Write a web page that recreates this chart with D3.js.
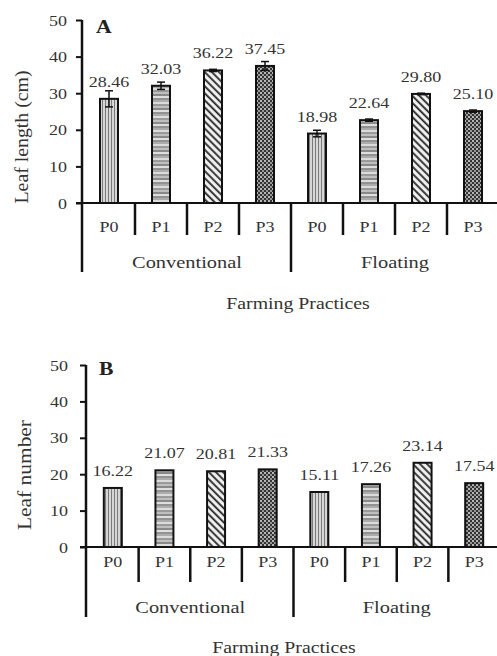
<!DOCTYPE html>
<html>
<head>
<meta charset="utf-8">
<script src="https://cdn.jsdelivr.net/npm/d3@7"></script>
<style>
  html, body { margin: 0; padding: 0; background: #fff; }
  svg { display: block; }
</style>
</head>
<body>
<svg id="chart" width="497" height="656"></svg>
<script>
// Treatments within each farming practice
const treatments = ["P0", "P1", "P2", "P3"];
const practices = ["Conventional", "Floating"];

// Panel A: leaf length (cm), Conventional P0..P3 then Floating P0..P3
const leafLength = [28.46, 32.03, 36.22, 37.45, 18.98, 22.64, 29.80, 25.10];
const leafLengthErr = [2.2, 1.0, 0.3, 1.2, 0.9, 0.3, 0.2, 0.3];

// Panel B: leaf number
const leafNumber = [16.22, 21.07, 20.81, 21.33, 15.11, 17.26, 23.14, 17.54];

const yTicks = [0, 10, 20, 30, 40, 50];

const SERIF = '"Liberation Serif", "Times New Roman", serif';
const svg = d3.select("#chart");
const defs = svg.append("defs");

// Fill patterns, one per treatment
// P0: vertical stripes on light grey
const p0 = defs.append("pattern").attr("id", "pat-P0")
  .attr("patternUnits", "userSpaceOnUse").attr("width", 3).attr("height", 10);
p0.append("rect").attr("width", 3).attr("height", 10).attr("fill", "#d6d6d6");
p0.append("line").attr("x1", 0.5).attr("x2", 0.5).attr("y1", 0).attr("y2", 10)
  .attr("stroke", "#7a7a7a").attr("stroke-width", 1);

// P1: horizontal bands of mixed greys
const p1 = defs.append("pattern").attr("id", "pat-P1")
  .attr("patternUnits", "userSpaceOnUse").attr("width", 10).attr("height", 14);
p1.append("rect").attr("width", 10).attr("height", 14).attr("fill", "#cfcfcf");
[[1, "#555"], [3, "#8a8a8a"], [5, "#e8e8e8"], [7, "#666"], [9, "#b0b0b0"], [11, "#444"], [13, "#eeeeee"]]
  .forEach(([y, c]) => p1.append("line").attr("x1", 0).attr("x2", 10).attr("y1", y).attr("y2", y)
    .attr("stroke", c).attr("stroke-width", 1));

// P2: back-diagonal hatching
const p2 = defs.append("pattern").attr("id", "pat-P2")
  .attr("patternUnits", "userSpaceOnUse").attr("width", 5).attr("height", 5)
  .attr("patternTransform", "rotate(45)");
p2.append("rect").attr("width", 5).attr("height", 5).attr("fill", "#f2f2f2");
p2.append("line").attr("x1", 0).attr("x2", 5).attr("y1", 1.2).attr("y2", 1.2)
  .attr("stroke", "#222").attr("stroke-width", 1.8);

// P3: dark checker with light dots
const p3 = defs.append("pattern").attr("id", "pat-P3")
  .attr("patternUnits", "userSpaceOnUse").attr("width", 4).attr("height", 4);
p3.append("rect").attr("width", 4).attr("height", 4).attr("fill", "#333");
p3.append("circle").attr("cx", 1).attr("cy", 1).attr("r", 1).attr("fill", "#e4e4e4");
p3.append("circle").attr("cx", 3).attr("cy", 3).attr("r", 1).attr("fill", "#b8b8b8");

const fmt = d3.format(".2f");
const SX = 1.2; // horizontal stretch of the serif lettering

function stretchedText(g, x, y, str, size, opts = {}) {
  return g.append("text")
    .attr("transform", `translate(${x},${y}) scale(${SX},1)`)
    .attr("text-anchor", opts.anchor || "middle")
    .style("font-family", SERIF)
    .style("font-size", size + "px")
    .style("font-weight", opts.weight || "normal")
    .style("fill", opts.fill || "#333")
    .text(str);
}

function drawPanel(cfg) {
  const g = svg.append("g");
  const labels = [];
  practices.forEach(p => treatments.forEach(t => labels.push(p + "|" + t)));

  const x = d3.scaleBand().domain(labels).range([cfg.x0, cfg.x1]).padding(0);
  const y = d3.scaleLinear().domain([0, 50]).range([cfg.yBase, cfg.yTop]);
  const barW = 18;

  // Bars
  g.selectAll("rect.bar").data(cfg.values).join("rect")
    .attr("class", "bar")
    .attr("x", (d, i) => x(labels[i]) + x.bandwidth() / 2 - barW / 2)
    .attr("y", d => y(d))
    .attr("width", barW)
    .attr("height", d => y(0) - y(d))
    .attr("fill", (d, i) => `url(#pat-${treatments[i % 4]})`)
    .attr("stroke", "#111")
    .attr("stroke-width", 2);

  // Error bars
  if (cfg.errors) {
    cfg.values.forEach((v, i) => {
      const cx = x(labels[i]) + x.bandwidth() / 2;
      const e = cfg.errors[i];
      g.append("line").attr("x1", cx).attr("x2", cx)
        .attr("y1", y(v - e)).attr("y2", y(v + e))
        .attr("stroke", "#111").attr("stroke-width", 1.5);
      [v - e, v + e].forEach(yy => g.append("line")
        .attr("x1", cx - 4).attr("x2", cx + 4)
        .attr("y1", y(yy)).attr("y2", y(yy))
        .attr("stroke", "#111").attr("stroke-width", 1.5));
    });
  }

  // Value labels
  cfg.values.forEach((v, i) => {
    const cx = x(labels[i]) + x.bandwidth() / 2;
    stretchedText(g, cx, y(v) - 12, fmt(v), 15);
  });

  // Y axis
  const yAxis = d3.axisLeft(y).tickValues(yTicks).tickSize(6).tickPadding(cfg.tickPad);
  const ya = g.append("g").attr("transform", `translate(${cfg.x0 - 1},0)`).call(yAxis);
  ya.select(".domain").remove();
  ya.selectAll(".tick line").attr("stroke", "#111").attr("stroke-width", 2);
  ya.selectAll(".tick text")
    .attr("x", null).attr("dy", null)
    .attr("transform", `translate(${-6 - cfg.tickPad},5) scale(${SX},1)`)
    .style("font-family", SERIF)
    .style("font-size", "15px")
    .style("fill", "#333");
  // vertical axis line, running down through the category rows
  g.append("line").attr("x1", cfg.x0 - 1).attr("x2", cfg.x0 - 1)
    .attr("y1", cfg.yTop).attr("y2", cfg.longEnd)
    .attr("stroke", "#111").attr("stroke-width", 2.5);

  // X baseline
  g.append("line").attr("x1", cfg.x0 - 7).attr("x2", cfg.x1 + 2)
    .attr("y1", y(0)).attr("y2", y(0))
    .attr("stroke", "#111").attr("stroke-width", 2);

  // Category dividers
  labels.forEach((l, i) => {
    if (i === 0) return;
    const xx = x(l);
    const long = i === 4;
    g.append("line").attr("x1", xx).attr("x2", xx)
      .attr("y1", y(0)).attr("y2", long ? cfg.longEnd : cfg.shortEnd)
      .attr("stroke", "#111").attr("stroke-width", 2.5);
  });
  g.append("line").attr("x1", cfg.x1).attr("x2", cfg.x1)
    .attr("y1", y(0)).attr("y2", cfg.longEnd)
    .attr("stroke", "#111").attr("stroke-width", 2.5);

  // Treatment labels
  labels.forEach((l, i) => {
    stretchedText(g, x(l) + x.bandwidth() / 2, cfg.catY, treatments[i % 4], 15);
  });

  // Practice labels
  practices.forEach((p, k) => {
    const a = x(labels[k * 4]);
    const b = x(labels[k * 4 + 3]) + x.bandwidth();
    stretchedText(g, (a + b) / 2, cfg.grpY, p, 17);
  });

  // Axis titles
  stretchedText(g, cfg.titleX, cfg.titleY, "Farming Practices", 16.5);
  g.append("text")
    .attr("transform", `translate(${cfg.yLabelX},${cfg.yLabelY}) rotate(-90)`)
    .attr("text-anchor", "middle")
    .attr("textLength", cfg.yLabelLen)
    .attr("lengthAdjust", "spacingAndGlyphs")
    .style("font-family", SERIF)
    .style("font-size", "18px")
    .style("fill", "#333")
    .text(cfg.yLabel);

  // Panel letter
  stretchedText(g, cfg.letterX, cfg.letterY, cfg.letter, 18, { anchor: "start", weight: "bold", fill: "#222" });
}

drawPanel({
  values: leafLength, errors: leafLengthErr,
  x0: 83, x1: 499, yBase: 203, yTop: 20,
  tickPad: 9, shortEnd: 235, longEnd: 272,
  catY: 232, grpY: 268, titleX: 298, titleY: 309,
  yLabel: "Leaf length (cm)", yLabelX: 28, yLabelY: 137, yLabelLen: 133,
  letter: "A", letterX: 96, letterY: 33
});

drawPanel({
  values: leafNumber, errors: null,
  x0: 87, x1: 500, yBase: 547, yTop: 365,
  tickPad: 12, shortEnd: 582, longEnd: 617,
  catY: 567, grpY: 613, titleX: 284, titleY: 653,
  yLabel: "Leaf number", yLabelX: 31, yLabelY: 475, yLabelLen: 110,
  letter: "B", letterX: 99, letterY: 375
});
</script>
</body>
</html>
